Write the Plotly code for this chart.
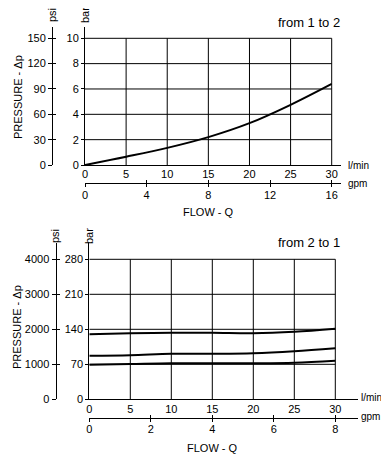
import plotly.graph_objects as go

# ---------------- data ----------------
FLOW_1TO2 = [0, 5, 10, 15, 20, 25, 30]           # l/min
DP_1TO2 = [0, 0.65, 1.35, 2.2, 3.3, 4.75, 6.4]   # bar

FLOW_2TO1 = [0, 5, 10, 15, 20, 25, 30]           # l/min
DP_2TO1_HIGH = [130, 132, 133, 133, 132, 135, 141]
DP_2TO1_MID = [87, 88, 91, 91, 92, 96, 102]
DP_2TO1_LOW = [69, 70.5, 72, 72, 72, 73, 77]

LMIN_TICKS = [0, 5, 10, 15, 20, 25, 30]
GPM_TICKS_TOP = [0, 4, 8, 12, 16]
GPM_TICKS_BOT = [0, 2, 4, 6, 8]
BAR_TICKS_TOP = [0, 2, 4, 6, 8, 10]
PSI_TICKS_TOP = [0, 30, 60, 90, 120, 150]
BAR_TICKS_BOT = [0, 70, 140, 210, 280]
PSI_TICKS_BOT = [0, 1000, 2000, 3000, 4000]

TITLE_TOP = "from 1 to 2"
TITLE_BOT = "from 2 to 1"

# ---------------- layout helpers ----------------
# the page body has an 8px default margin on every side
PAGE_W, PAGE_H, OFF = 389, 463, 8
W, H = PAGE_W - 2 * OFF, PAGE_H - 2 * OFF
def fx(px):
    return (px - OFF) / W
def fy(py):
    return 1 - (py - OFF) / H

FONT = "Liberation Sans, Arial, sans-serif"
TICKFONT = dict(family=FONT, size=11, color="black")

fig = go.Figure()

# curves
fig.add_trace(go.Scatter(x=FLOW_1TO2, y=DP_1TO2, xaxis="x", yaxis="y", mode="lines",
                         line=dict(color="black", width=2, shape="spline"),
                         showlegend=False, hoverinfo="skip"))
for ys in (DP_2TO1_HIGH, DP_2TO1_MID, DP_2TO1_LOW):
    fig.add_trace(go.Scatter(x=FLOW_2TO1, y=ys, xaxis="x4", yaxis="y4", mode="lines",
                             line=dict(color="black", width=2, shape="spline"),
                             showlegend=False, hoverinfo="skip"))

# empty traces so the overlay axes get drawn
for xa, ya in (("x2", "y2"), ("x3", "y3"), ("x5", "y5"), ("x6", "y6")):
    fig.add_trace(go.Scatter(x=[None], y=[None], xaxis=xa, yaxis=ya, mode="lines",
                             showlegend=False, hoverinfo="skip"))

# ---------------- geometry ----------------
T_X0, T_X30, T_XEND = 85, 331.7, 341
T_Y0, T_Y10, T_YTOP = 165, 38.3, 27
t_xmax = 30 + (T_XEND - T_X30) / ((T_X30 - T_X0) / 30)
t_ymax = 10 * (T_Y0 - T_YTOP) / (T_Y0 - T_Y10)
t_xdom = [fx(T_X0), fx(T_XEND)]
t_ydom = [fy(T_Y0), fy(T_YTOP)]

B_X0, B_X30, B_XEND = 89.3, 335.3, 358
B_Y0, B_Y280, B_YTOP = 399.3, 259.3, 243
b_xmax = 30 + (B_XEND - B_X30) / ((B_X30 - B_X0) / 30)
b_ymax = 280 * (B_Y0 - B_YTOP) / (B_Y0 - B_Y280)
b_xdom = [fx(B_X0), fx(B_XEND)]
b_ydom = [fy(B_Y0), fy(B_YTOP)]

common = dict(showgrid=False, zeroline=False, tickfont=TICKFONT, linecolor="black",
              tickcolor="black", fixedrange=True, automargin=False)

fig.update_layout(
    width=W, height=H, margin=dict(l=0, r=0, t=0, b=0, autoexpand=False),
    paper_bgcolor="white", plot_bgcolor="rgba(0,0,0,0)", showlegend=False,
    # ---- top ----
    xaxis=dict(domain=t_xdom, range=[0, t_xmax], anchor="y", showline=True, linewidth=1,
               tickvals=LMIN_TICKS, ticks="", ticklabelstandoff=-1, **common),
    yaxis=dict(domain=t_ydom, range=[0, t_ymax], anchor="x", showline=True, linewidth=1,
               tickvals=BAR_TICKS_TOP, ticks="outside", ticklen=3, **common),
    xaxis2=dict(overlaying="x", anchor="free", position=fy(183.3), side="bottom",
                range=[0, 16 * t_xmax / 30], showline=True, linewidth=1,
                tickvals=GPM_TICKS_TOP, ticks="outside", ticklen=3, ticklabelstandoff=-2,
                **common),
    xaxis3=dict(overlaying="x", anchor="free", position=fy(183.3), side="bottom",
                range=[0, 16 * t_xmax / 30], showline=False, showticklabels=False,
                tickvals=GPM_TICKS_TOP, ticks="inside", ticklen=3, **common),
    yaxis2=dict(overlaying="y", anchor="free", position=fx(52), side="left",
                range=[0, 150 * t_ymax / 10], showline=True, linewidth=1,
                tickvals=PSI_TICKS_TOP, ticks="outside", ticklen=4, **common),
    yaxis3=dict(overlaying="y", anchor="free", position=fx(52), side="left",
                range=[0, 150 * t_ymax / 10], showline=False, showticklabels=False,
                tickvals=PSI_TICKS_TOP, ticks="inside", ticklen=3, **common),
    # ---- bottom ----
    xaxis4=dict(domain=b_xdom, range=[0, b_xmax], anchor="y4", showline=True, linewidth=1,
                tickvals=LMIN_TICKS, ticks="", ticklabelstandoff=-1, **common),
    yaxis4=dict(domain=b_ydom, range=[0, b_ymax], anchor="x4", showline=True, linewidth=1,
                tickvals=BAR_TICKS_BOT, ticks="outside", ticklen=3, **common),
    xaxis5=dict(overlaying="x4", anchor="free", position=fy(417.5), side="bottom",
                range=[0, 8 * b_xmax / 30], showline=True, linewidth=1,
                tickvals=GPM_TICKS_BOT, ticks="outside", ticklen=3, ticklabelstandoff=-2,
                **common),
    xaxis6=dict(overlaying="x4", anchor="free", position=fy(417.5), side="bottom",
                range=[0, 8 * b_xmax / 30], showline=False, showticklabels=False,
                tickvals=GPM_TICKS_BOT, ticks="inside", ticklen=3, **common),
    yaxis5=dict(overlaying="y4", anchor="free", position=fx(55.5), side="left",
                range=[0, 4000 * b_ymax / 280], showline=True, linewidth=1,
                tickvals=PSI_TICKS_BOT, ticks="outside", ticklen=4, **common),
    yaxis6=dict(overlaying="y4", anchor="free", position=fx(55.5), side="left",
                range=[0, 4000 * b_ymax / 280], showline=False, showticklabels=False,
                tickvals=PSI_TICKS_BOT, ticks="inside", ticklen=3, **common),
)

# grid lines (end at the last tick on each axis)
shapes = []
for xr, yr, xt, yt in (("x", "y", LMIN_TICKS, BAR_TICKS_TOP),
                       ("x4", "y4", LMIN_TICKS, BAR_TICKS_BOT)):
    for v in xt[1:]:
        shapes.append(dict(type="line", xref=xr, yref=yr, x0=v, x1=v, y0=yt[0], y1=yt[-1],
                           line=dict(color="black", width=1), layer="below"))
    for v in yt[1:]:
        shapes.append(dict(type="line", xref=xr, yref=yr, x0=xt[0], x1=xt[-1], y0=v, y1=v,
                           line=dict(color="black", width=1), layer="below"))
fig.update_layout(shapes=shapes)

LBL = dict(family=FONT, size=11, color="black")
UNIT = dict(family=FONT, size=10, color="black")
ann = [
    dict(text=TITLE_TOP, x=fx(342), y=fy(22), xanchor="right", yanchor="middle",
         font=dict(family=FONT, size=13, color="black")),
    dict(text=TITLE_BOT, x=fx(342), y=fy(242), xanchor="right", yanchor="middle",
         font=dict(family=FONT, size=13, color="black")),
    dict(text="FLOW - Q", x=fx(208), y=fy(212), xanchor="center", yanchor="middle", font=LBL),
    dict(text="FLOW - Q", x=fx(212), y=fy(448), xanchor="center", yanchor="middle", font=LBL),
    dict(text="PRESSURE - Δp", x=fx(18), y=fy(97), textangle=-90, xanchor="center",
         yanchor="middle", font=LBL),
    dict(text="PRESSURE - Δp", x=fx(17), y=fy(327), textangle=-90, xanchor="center",
         yanchor="middle", font=LBL),
    dict(text="psi", x=fx(52), y=fy(15), textangle=-90, xanchor="center", yanchor="middle", font=LBL),
    dict(text="bar", x=fx(85), y=fy(15), textangle=-90, xanchor="center", yanchor="middle", font=LBL),
    dict(text="psi", x=fx(55), y=fy(236), textangle=-90, xanchor="center", yanchor="middle", font=LBL),
    dict(text="bar", x=fx(89), y=fy(236), textangle=-90, xanchor="center", yanchor="middle", font=LBL),
    dict(text="l/min", x=fx(346), y=fy(165), xanchor="left", yanchor="middle", font=UNIT),
    dict(text="gpm", x=fx(346), y=fy(183), xanchor="left", yanchor="middle", font=UNIT),
    dict(text="l/min", x=fx(359), y=fy(397), xanchor="left", yanchor="middle", font=UNIT),
    dict(text="gpm", x=fx(359), y=fy(416), xanchor="left", yanchor="middle", font=UNIT),
]
for a in ann:
    a.update(xref="paper", yref="paper", showarrow=False)
fig.update_layout(annotations=ann)

fig.write_html("out.html")
